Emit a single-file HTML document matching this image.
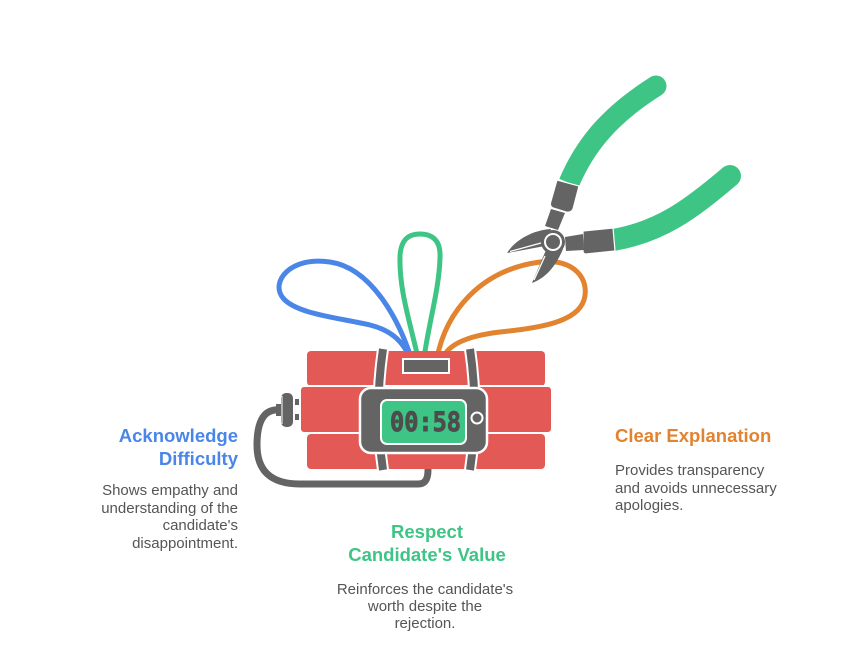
<!DOCTYPE html>
<html>
<head>
<meta charset="utf-8">
<style>
  html,body{margin:0;padding:0;background:#fff;}
  body{width:852px;height:662px;position:relative;overflow:hidden;font-family:"Liberation Sans",sans-serif;}
  svg{position:absolute;left:0;top:0;}
  .t{position:absolute;white-space:nowrap;font-weight:bold;font-size:18.5px;line-height:23px;}
  .b{position:absolute;white-space:nowrap;font-size:15px;line-height:17.5px;color:#555;}
</style>
</head>
<body>
<svg width="852" height="662" viewBox="0 0 852 662">
  <!-- cable -->
  <path d="M280 410 C262 408 257 425 257 445 C257 470 270 484 300 484 L418 484 C426 484 428 478 428 470 L428 462" fill="none" stroke="#646464" stroke-width="7"/>
  <!-- plug -->
  <rect x="276" y="404" width="7" height="12" fill="#646464"/>
  <rect x="281" y="393" width="12" height="34" rx="5" fill="#646464"/>
  <line x1="282" y1="396" x2="282" y2="424" stroke="#fff" stroke-width="1"/>
  <rect x="295" y="399" width="4" height="6" fill="#646464"/>
  <rect x="295" y="414" width="4" height="6" fill="#646464"/>

  <!-- wires -->
  <path d="M411 358 C400 322 372 268 330 262 C290 256 270 282 283 298 C296 314 340 318 370 325 C394 331 404 344 410 358" fill="none" stroke="#4a86e8" stroke-width="5"/>
  <path d="M418 358 C410 322 399 290 400 256 C401 238 410 234 420 234 C432 234 441 240 440 258 C439 290 429 322 424 358" fill="none" stroke="#3ec585" stroke-width="5"/>
  <path d="M437 358 C446 312 480 270 540 262 C575 258 590 280 584 300 C577 322 540 328 500 332 C466 336 448 345 443 358" fill="none" stroke="#e2832f" stroke-width="5"/>

  <!-- dynamite sticks -->
  <rect x="307" y="351" width="238" height="35" rx="4" fill="#e35955"/>
  <rect x="307" y="434" width="238" height="35" rx="4" fill="#e35955"/>
  <rect x="300" y="386" width="252" height="47" rx="4" fill="#e35955" stroke="#fff" stroke-width="2"/>

  <!-- straps -->
  <path d="M383 349 Q374 409 383 470" fill="none" stroke="#fff" stroke-width="12"/>
  <path d="M383 349 Q374 409 383 470" fill="none" stroke="#646464" stroke-width="8"/>
  <path d="M470 349 Q479 409 470 470" fill="none" stroke="#fff" stroke-width="12"/>
  <path d="M470 349 Q479 409 470 470" fill="none" stroke="#646464" stroke-width="8"/>

  <!-- cap -->
  <rect x="403" y="359" width="46" height="14" fill="#646464" stroke="#fff" stroke-width="2"/>

  <!-- timer -->
  <rect x="360" y="388" width="127" height="65" rx="11" fill="#646464" stroke="#fff" stroke-width="2.5"/>
  <rect x="381" y="400" width="85" height="44" rx="6" fill="#3ec585" stroke="#fff" stroke-width="2"/>
  <circle cx="477" cy="418" r="5.5" fill="#646464" stroke="#fff" stroke-width="2"/>
  <text x="390" y="431" font-family="DejaVu Sans Mono, Liberation Mono, monospace" font-weight="bold" font-size="27" fill="#4d4d4d" stroke="#4d4d4d" stroke-width="0.9" textLength="71" lengthAdjust="spacingAndGlyphs">00:58</text>

  <!-- pliers: green handles -->
  <path d="M569 183 C585 145 610 115 656 86" fill="none" stroke="#3ec585" stroke-width="21"/>
  <circle cx="656" cy="86" r="10.5" fill="#3ec585"/>
  <path d="M613 240 C660 232 690 210 730 176" fill="none" stroke="#3ec585" stroke-width="22"/>
  <circle cx="730" cy="176" r="11" fill="#3ec585"/>

  <!-- gray grips -->
  <path d="M557 180 L579 186 L573 209 Q571 213 566 212 L553 208 Q549 206 551 201 Z" fill="#646464" stroke="#fff" stroke-width="1.2"/>
  <path d="M551 209 L565 213 L558 230 L545 226 Z" fill="#646464"/>
  <path d="M583 231 L613 228 L615 251 L586 254 Q583 254 583 251 Z" fill="#646464" stroke="#fff" stroke-width="1.2"/>
  <path d="M565 237 L583 234 L584 250 L566 251 Z" fill="#646464"/>

  <!-- jaws -->
  <path d="M551 229 C533 230 515 240 507 253 L545 246 Z" fill="#646464"/>
  <line x1="510" y1="251.5" x2="541" y2="243" stroke="#fff" stroke-width="1.3"/>
  <path d="M546 250 L532 283 C545 278 555 268 563 249 Z" fill="#646464"/>
  <line x1="545" y1="256" x2="534" y2="280" stroke="#fff" stroke-width="1.3"/>
  <!-- pivot -->
  <circle cx="553" cy="242" r="12" fill="#646464"/>
  <circle cx="553" cy="242" r="8" fill="#646464" stroke="#fff" stroke-width="2"/>
</svg>

<div class="t" style="right:614px;top:424px;text-align:right;color:#4a86e8;">Acknowledge<br>Difficulty</div>
<div class="b" style="right:614px;top:482px;text-align:right;">Shows empathy and<br>understanding of the<br>candidate's<br>disappointment.</div>

<div class="t" style="left:615px;top:424px;color:#e2832f;">Clear Explanation</div>
<div class="b" style="left:615px;top:462px;">Provides transparency<br>and avoids unnecessary<br>apologies.</div>

<div class="t" style="left:277px;width:300px;top:520px;text-align:center;color:#3ec585;">Respect<br>Candidate's Value</div>
<div class="b" style="left:275px;width:300px;top:582px;text-align:center;line-height:16.8px;">Reinforces the candidate's<br>worth despite the<br>rejection.</div>
</body>
</html>
